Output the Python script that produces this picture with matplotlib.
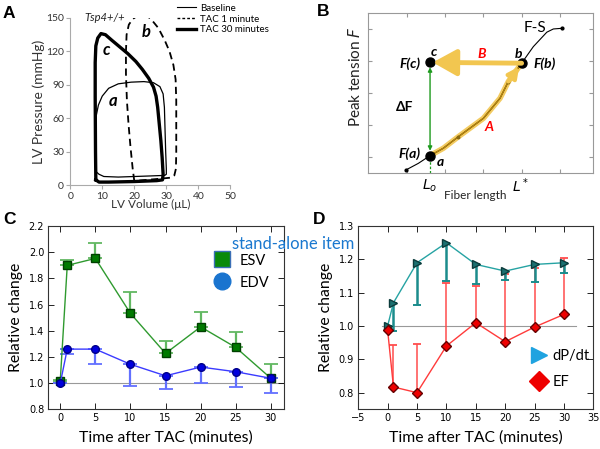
import numpy as np
import matplotlib.pyplot as plt
from matplotlib.lines import Line2D

plt.rcParams['font.family'] = ['Lato', 'DejaVu Sans']

# ---- panel A: PV loops (volume in uL, pressure in mmHg)
base_vol = [8.0, 8.0, 8.1, 8.8, 10.0, 12.0, 15.0, 19.0, 23.0, 26.0, 28.0, 29.0, 29.4, 29.6, 29.8, 30.0,
            30.0, 29.5, 25.0, 15.0, 10.5, 9.0, 8.2, 8.0]
base_p = [15, 40, 62, 72, 80, 87, 91, 92.5, 93, 92, 88.5, 82, 70, 50, 30, 15,
          10, 9, 8.5, 7.5, 8, 10, 12, 15]
tac1_vol = [20.0, 19.5, 18.8, 18.2, 17.7, 17.4, 17.4, 17.6, 18.3, 19.5, 21.0, 22.5, 24.0, 25.5, 27.5, 29.5,
            31.0, 32.2, 32.9, 33.1, 33.1, 33.1, 33.0, 32.5, 31.5, 28.0, 24.0, 20.0]
tac1_p = [4, 15, 35, 55, 76, 100, 120, 135, 144, 149, 152, 153, 152, 148, 141, 130,
          120, 108, 95, 76, 50, 30, 15, 9, 7, 6, 5, 4]
tac30_vol = [8.0, 7.9, 7.8, 7.8, 8.0, 8.6, 9.6, 11.0, 13.0, 15.5, 18.0, 20.5, 22.5, 24.5, 26.0, 26.8,
             27.3, 27.8, 28.3, 28.7, 29.0, 28.8, 27.0, 20.0, 12.0, 9.0, 8.0]
tac30_p = [5, 30, 80, 110, 125, 132, 136, 135, 130, 124, 118, 111, 104, 96, 88, 80,
           70, 55, 40, 25, 10, 5, 4.3, 3.5, 3, 3, 5]

# ---- panel B: force-length schematic (arbitrary units)
fs_x = [0.167, 0.222, 0.274, 0.333, 0.400, 0.511, 0.585, 0.622, 0.681, 0.733, 0.793, 0.822, 0.859]
fs_y = [0.021, 0.062, 0.110, 0.156, 0.228, 0.342, 0.467, 0.571, 0.685, 0.788, 0.878, 0.898, 0.902]
pt_a = (0.274, 0.110)
pt_b = (0.681, 0.685)
pt_c = (0.274, 0.690)

# ---- panels C, D: relative change vs time after TAC
t = [0, 1, 5, 10, 15, 20, 25, 30]
esv = [1.016, 1.90, 1.953, 1.533, 1.227, 1.43, 1.273, 1.037]
esv_hi = [1.025, 1.94, 2.07, 1.70, 1.324, 1.545, 1.388, 1.146]
edv = [0.998, 1.26, 1.26, 1.144, 1.056, 1.123, 1.087, 1.037]
edv_lo = [0.998, 1.22, 1.144, 0.98, 0.955, 1.003, 0.972, 0.922]
dpdt = [1.0, 1.07, 1.19, 1.25, 1.185, 1.165, 1.185, 1.19]
dpdt_lo = [0.993, 0.985, 1.062, 1.135, 1.125, 1.138, 1.132, 1.16]
ef = [0.988, 0.817, 0.80, 0.94, 1.01, 0.953, 0.997, 1.035]
ef_hi = [0.988, 0.943, 0.947, 1.13, 1.12, 1.155, 1.175, 1.205]

fig = plt.figure(figsize=(6, 4.49), dpi=100)

# ================= A
axA = fig.add_axes([0.117, 0.587, 0.267, 0.373])
axA.plot(base_vol, base_p, color='black', lw=0.9)
axA.plot(tac1_vol, tac1_p, color='black', lw=1.3, ls=(0, (4, 2.5)))
axA.plot(tac30_vol, tac30_p, color='black', lw=2.4, solid_joinstyle='round')
axA.set_xlim(0, 50)
axA.set_ylim(0, 150)
axA.set_xticks([0, 10, 20, 30, 40, 50])
axA.set_yticks([0, 30, 60, 90, 120, 150])
for s in ['top', 'right']:
    axA.spines[s].set_visible(False)
for s in ['left', 'bottom']:
    axA.spines[s].set_color('#aaaaaa')
axA.tick_params(direction='out', length=3, color='#aaaaaa', labelsize=7.5, labelcolor='#333333', pad=1.5)
axA.set_xlabel('LV Volume (\u03bcL)', fontsize=8.5, labelpad=-1, color='#333333')
axA.set_ylabel('LV Pressure (mmHg)', fontsize=10, labelpad=1, color='#333333')
axA.text(4.5, 150, 'Tsp4+/+', fontsize=8, style='italic', va='center', color='#222222')
axA.text(11.4, 121, 'c', fontsize=12, style='italic', weight='bold', ha='center', va='center')
axA.text(23.6, 137, 'b', fontsize=12, style='italic', weight='bold', ha='center', va='center')
axA.text(13.4, 76, 'a', fontsize=12, style='italic', weight='bold', ha='center', va='center')
hA = [Line2D([], [], color='black', lw=0.8),
      Line2D([], [], color='black', lw=1.0, ls=(0, (2, 1.5))),
      Line2D([], [], color='black', lw=2.4)]
fig.legend(hA, ['Baseline', 'TAC 1 minute', 'TAC 30 minutes'], loc='upper left',
           bbox_to_anchor=(0.285, 1.005), frameon=False, fontsize=7, handlelength=2.0,
           labelspacing=0.2, borderpad=0.1, handletextpad=0.4)

# ================= B
axB = fig.add_axes([0.614, 0.614, 0.375, 0.358])
axB.set_xlim(0, 1)
axB.set_ylim(0, 1)
axB.set_xticks([0.170, 0.341, 0.511, 0.681, 0.852])
axB.set_yticks([0.104, 0.303, 0.502, 0.701, 0.900])
axB.tick_params(direction='in', length=3, top=True, right=True, labelbottom=False, labelleft=False,
                color='#999999')
for s in axB.spines.values():
    s.set_color('#999999')
yellow = '#f2c650'
axB.plot(fs_x[2:9], fs_y[2:9], color=yellow, lw=4.0, alpha=0.9, solid_capstyle='butt',
         solid_joinstyle='round')
axB.plot(fs_x, fs_y, color='black', lw=0.8)
axB.plot(fs_x[2:9], fs_y[2:9], color='#b8860b', lw=1.0)
axB.plot([fs_x[0], fs_x[-1]], [fs_y[0], fs_y[-1]], 'o', color='black', ms=2)
axB.plot([fs_x[4], fs_x[7]], [fs_y[4], fs_y[7]], 'o', color='#8a6a10', ms=1.8)
axB.annotate('', xy=pt_b, xytext=(fs_x[7], fs_y[7]),
             arrowprops=dict(arrowstyle='-|>', color=yellow, lw=3, mutation_scale=16,
                             shrinkA=0, shrinkB=3))
axB.annotate('', xy=(pt_c[0] + 0.012, pt_c[1]), xytext=pt_b,
             arrowprops=dict(arrowstyle='-|>,head_length=0.9,head_width=0.5', color=yellow, lw=3.5,
                             mutation_scale=16, shrinkA=0, shrinkB=0))
axB.annotate('', xy=(pt_c[0], pt_c[1] - 0.03), xytext=(pt_a[0], pt_a[1] + 0.03),
             arrowprops=dict(arrowstyle='<|-|>', color='#1e9a1e', lw=1.0, mutation_scale=6,
                             shrinkA=0, shrinkB=0))
axB.plot([pt_a[0], pt_a[0]], [0, pt_a[1]], color='#1e9a1e', lw=0.9, ls=(0, (2, 1.5)))
axB.plot([pt_a[0], pt_b[0], pt_c[0]], [pt_a[1], pt_b[1], pt_c[1]], 'o', color='black', ms=6.5)
bi = dict(fontsize=10, style='italic', weight='bold', ha='center', va='center')
axB.text(0.289, 0.757, 'c', **bi)
axB.text(0.185, 0.685, 'F(c)', **bi)
axB.text(0.667, 0.740, 'b', **bi)
axB.text(0.785, 0.685, 'F(b)', **bi)
axB.text(0.185, 0.122, 'F(a)', **bi)
axB.text(0.322, 0.070, 'a', **bi)
axB.text(0.163, 0.415, '\u0394F', fontsize=10, weight='bold', ha='center', va='center')
axB.text(0.535, 0.290, 'A', fontsize=10, style='italic', weight='bold', color='red', ha='center', va='center')
axB.text(0.504, 0.740, 'B', fontsize=10, style='italic', weight='bold', color='red', ha='center', va='center')
axB.text(0.742, 0.905, 'F-S', fontsize=11, ha='center', va='center')
axB.text(0.274, -0.08, r'$\boldsymbol{L_o}$', fontsize=10, ha='center', va='center')
axB.text(0.674, -0.075, r'$\boldsymbol{L^*}$', fontsize=10, ha='center', va='center')
axB.text(0.474, -0.135, 'Fiber length', fontsize=8.5, ha='center', va='center', color='#222222')
axB.text(-0.06, 0.60, 'Peak tension $F$', fontsize=11, rotation=90, ha='center', va='center',
         color='#222222')

# ================= C
def classic(ax):
    ax.tick_params(direction='in', length=4, width=0.6, top=True, right=True, labelsize=7, pad=3)
    for lab in ax.get_xticklabels() + ax.get_yticklabels():
        lab.set_family('DejaVu Sans')
    for s in ax.spines.values():
        s.set_color('#333333')
        s.set_linewidth(0.8)

axC = fig.add_axes([0.0805, 0.0884, 0.392, 0.408])
axC.axhline(1.0, color='#999999', lw=0.8, zorder=1)
esv_a = np.array(esv)
edv_a = np.array(edv)
axC.errorbar(t, esv, yerr=[np.zeros(len(t)), np.array(esv_hi) - esv_a], fmt='none',
             ecolor='#62b862', elinewidth=1.6, capsize=5, capthick=1.3, zorder=2)
axC.errorbar(t, edv, yerr=[edv_a - np.array(edv_lo), np.zeros(len(t))], fmt='none',
             ecolor='#6270ff', elinewidth=1.6, capsize=5, capthick=1.3, zorder=2)
axC.plot(t, esv, color='#2f9a2f', lw=1.0, marker='s', ms=5.5, mfc='#007a00', mec='#004000', zorder=3)
axC.plot(t, edv, color='#3b3bff', lw=1.0, marker='o', ms=5.5, mfc='#0000dd', mec='#000088', zorder=3)
axC.set_xlim(-1.7, 31.8)
axC.set_ylim(0.8, 2.2)
axC.set_xticks([0, 5, 10, 15, 20, 25, 30])
axC.set_yticks([0.8, 1.0, 1.2, 1.4, 1.6, 1.8, 2.0, 2.2])
classic(axC)
axC.set_ylabel('Relative change', fontsize=11.3, labelpad=4)
axC.set_xlabel('Time after TAC (minutes)', fontsize=11.3, labelpad=5)
hC = [Line2D([], [], ls='none', marker='s', ms=11, mfc='#0a8a0a', mec='#3b6fb6', mew=1),
      Line2D([], [], ls='none', marker='o', ms=12, color='#1a74cf')]
axC.legend(hC, ['ESV', 'EDV'], loc='upper left', bbox_to_anchor=(0.666, 0.89), frameon=False,
           fontsize=10.5, handlelength=1.4, handletextpad=0.5, labelspacing=0.55, borderpad=0)

# ================= D
axD = fig.add_axes([0.597, 0.0884, 0.392, 0.408])
axD.plot([-1, 32], [1.0, 1.0], color='#999999', lw=0.8, zorder=1)
dpdt_a = np.array(dpdt)
ef_a = np.array(ef)
axD.errorbar(t, ef, yerr=[np.zeros(len(t)), np.array(ef_hi) - ef_a], fmt='none',
             ecolor='#ff4d4d', elinewidth=1.1, capsize=3, capthick=1.3, zorder=2)
axD.errorbar(t, dpdt, yerr=[dpdt_a - np.array(dpdt_lo), np.zeros(len(t))], fmt='none',
             ecolor='#1b8c8c', elinewidth=1.8, capsize=3, capthick=1.4, zorder=2)
axD.plot(t, dpdt, color='#26a3a3', lw=1.0, marker='>', ms=5.5, mfc='#1a7070', mec='#0b3b3b', zorder=3)
axD.plot(t, ef, color='#ff3b3b', lw=1.0, marker='D', ms=5, mfc='#ee0000', mec='#660000', zorder=3)
axD.set_xlim(-5, 35)
axD.set_ylim(0.75, 1.3)
axD.set_xticks([-5, 0, 5, 10, 15, 20, 25, 30, 35])
axD.set_yticks([0.8, 0.9, 1.0, 1.1, 1.2, 1.3])
classic(axD)
axD.set_ylabel('Relative change', fontsize=11.3, labelpad=4)
axD.set_xlabel('Time after TAC (minutes)', fontsize=11.3, labelpad=5)
hD = [Line2D([], [], ls='none', marker='>', ms=12, color='#1fa3e0'),
      Line2D([], [], ls='none', marker='D', ms=10, color='#ee0000')]
axD.legend(hD, ['dP/dt', 'EF'], loc='upper left', bbox_to_anchor=(0.695, 0.37), frameon=False,
           fontsize=10.5, handlelength=1.4, handletextpad=0.2, labelspacing=0.85, borderpad=0)

fig.text(232 / 600, 1 - 244 / 449, 'stand-alone item', color='#1a78cf', fontsize=12, va='center')

# panel letters
for lab, x, y in [('A', 9, 14), ('B', 323, 11), ('C', 9, 219), ('D', 319, 219)]:
    fig.text(x / 600, 1 - y / 449, lab, fontsize=12.5, weight='bold', ha='center', va='center',
             family='Liberation Sans')

fig.savefig('out.png', dpi=100)
